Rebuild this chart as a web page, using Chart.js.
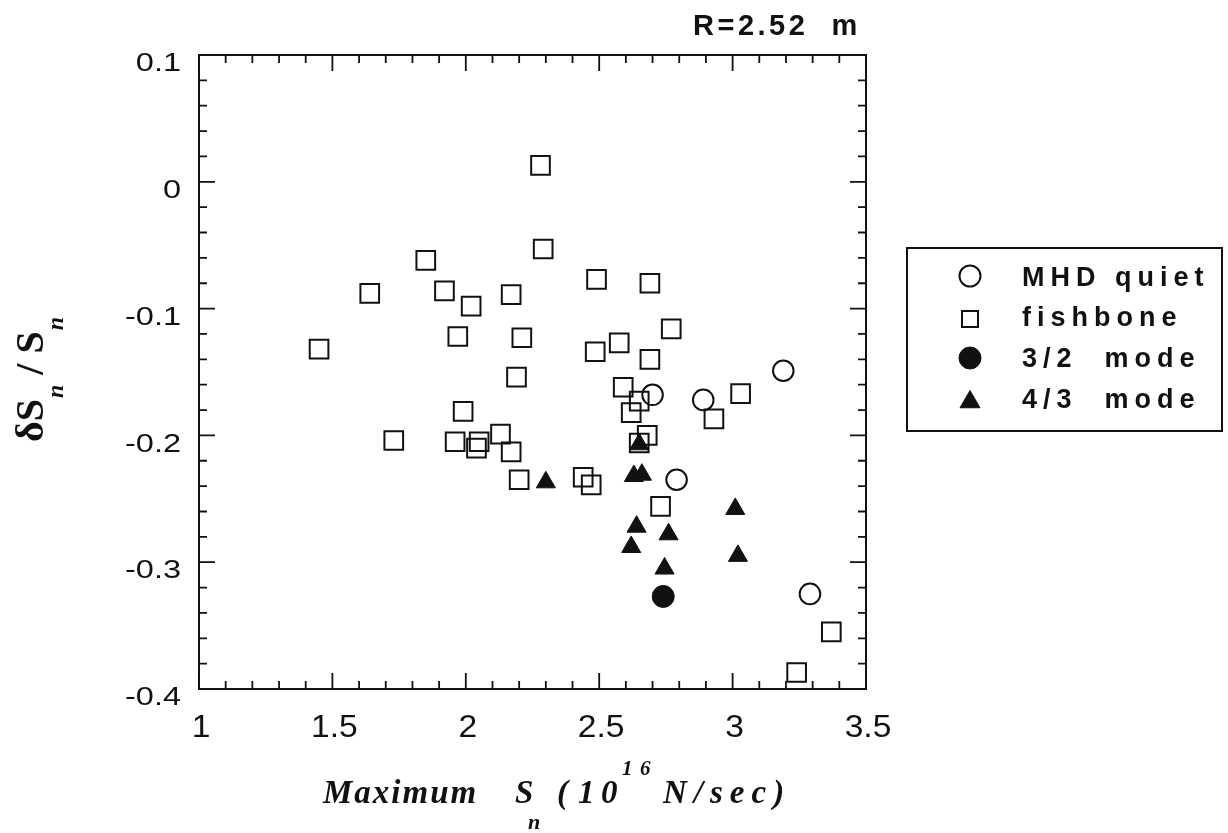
<!DOCTYPE html>
<html>
<head>
<meta charset="utf-8">
<script src="https://cdn.jsdelivr.net/npm/chart.js@4.4.0/dist/chart.umd.min.js"></script>
<style>
  html, body { margin: 0; padding: 0; background: #fff; }
  #wrap { width: 1228px; height: 833px; }
  canvas { display: block; }
</style>
</head>
<body>
<div id="wrap"><canvas id="chart" width="1228" height="833"></canvas></div>
<script>
// Maximum neutron source strength (10^16 N/s) and relative drop dS_n/S_n
const mhdQuietX = [2.70, 2.89, 3.19, 2.79, 3.29];
const mhdQuietY = [-0.168, -0.172, -0.149, -0.235, -0.325];

const fishboneX = [1.45, 1.64, 1.73, 1.85, 1.92, 1.97, 1.99, 1.96, 2.02, 2.05, 2.04, 2.13, 2.17,
  2.17, 2.19, 2.21, 2.20, 2.28, 2.29, 2.44, 2.47, 2.49, 2.485, 2.575, 2.59, 2.62, 2.65, 2.68,
  2.65, 2.69, 2.69, 2.77, 2.73, 2.93, 3.03, 3.37, 3.24];
const fishboneY = [-0.132, -0.088, -0.204, -0.062, -0.086, -0.122, -0.181, -0.205, -0.098, -0.205,
  -0.210, -0.199, -0.213, -0.089, -0.154, -0.123, -0.235, 0.013, -0.053, -0.233, -0.239, -0.077,
  -0.134, -0.127, -0.162, -0.182, -0.173, -0.200, -0.206, -0.080, -0.140, -0.116, -0.256, -0.187,
  -0.167, -0.355, -0.387];

const mode32X = [2.74];
const mode32Y = [-0.327];

const mode43X = [2.30, 2.65, 2.63, 2.66, 3.01, 2.64, 2.76, 2.62, 3.02, 2.745];
const mode43Y = [-0.237, -0.207, -0.232, -0.231, -0.258, -0.272, -0.278, -0.288, -0.295, -0.305];

const seriesLabels = ['MHD quiet', 'fishbone', '3/2  mode', '4/3  mode'];

const xTickValues = [1, 1.5, 2, 2.5, 3, 3.5];
const xTickLabels = ['1', '1.5', '2', '2.5', '3', '3.5'];
const yTickValues = [0.1, 0, -0.1, -0.2, -0.3, -0.4];
const yTickLabels = ['0.1', '0', '-0.1', '-0.2', '-0.3', '-0.4'];
const xMinorStep = 0.1;
const yMinorStep = 0.02;
const plotTitle = 'R=2.52  m';

function toPoints(xs, ys) {
  return xs.map((x, i) => ({ x: x, y: ys[i] }));
}

const INK = '#111';
const NONE = 'rgba(0,0,0,0)';

// text widened horizontally around its anchor
function wideText(ctx, text, x, y, sx, align) {
  ctx.save();
  ctx.translate(x, y);
  ctx.scale(sx, 1);
  ctx.textAlign = align;
  ctx.fillText(text, 0, 0);
  ctx.restore();
}

// boxed frame, inward major/minor ticks on all four sides, tick labels, titles
const framePlugin = {
  id: 'frame',
  beforeDatasetsDraw(chart) {
    const { ctx, chartArea: a } = chart;
    const xs = chart.scales.x, ys = chart.scales.y;
    ctx.save();
    ctx.strokeStyle = INK;
    ctx.lineWidth = 2;
    ctx.strokeRect(a.left, a.top, a.right - a.left, a.bottom - a.top);

    ctx.lineWidth = 1.8;
    ctx.beginPath();
    const nx = Math.round((xs.max - xs.min) / xMinorStep);
    for (let i = 0; i <= nx; i++) {
      const px = xs.getPixelForValue(xs.min + i * xMinorStep);
      const len = (i % 5 === 0) ? 16 : 8;
      ctx.moveTo(px, a.bottom); ctx.lineTo(px, a.bottom - len);
      ctx.moveTo(px, a.top); ctx.lineTo(px, a.top + len);
    }
    const ny = Math.round((ys.max - ys.min) / yMinorStep);
    for (let i = 0; i <= ny; i++) {
      const py = ys.getPixelForValue(ys.min + i * yMinorStep);
      const len = (i % 5 === 0) ? 16 : 8;
      ctx.moveTo(a.left, py); ctx.lineTo(a.left + len, py);
      ctx.moveTo(a.right, py); ctx.lineTo(a.right - len, py);
    }
    ctx.stroke();

    ctx.fillStyle = INK;
    ctx.textBaseline = 'middle';
    ctx.font = '26px "Liberation Sans", Arial, sans-serif';
    yTickValues.forEach((v, i) => {
      wideText(ctx, yTickLabels[i], a.left - 18, ys.getPixelForValue(v) + 9, 1.25, 'right');
    });
    ctx.font = '32px "Liberation Sans", Arial, sans-serif';
    xTickValues.forEach((v, i) => {
      wideText(ctx, xTickLabels[i], xs.getPixelForValue(v) + 2, a.bottom + 39, 1.05, 'center');
    });

    // title at the top right
    ctx.textBaseline = 'alphabetic';
    ctx.textAlign = 'left';
    ctx.font = 'bold 29px "Liberation Sans", Arial, sans-serif';
    ctx.letterSpacing = '3.5px';
    ctx.fillText(plotTitle, 693, 35);
    ctx.letterSpacing = '0px';

    // x axis title: Maximum S_n (10^16 N/sec)
    const big = 'italic bold 33px "Liberation Serif", "Times New Roman", serif';
    const small = 'italic bold 22px "Liberation Serif", "Times New Roman", serif';
    const sup = 'italic bold 21px "Liberation Serif", "Times New Roman", serif';
    const base = 803;
    ctx.font = big;
    ctx.letterSpacing = '2px';
    ctx.fillText('Maximum', 323, base);
    ctx.letterSpacing = '0px';
    ctx.fillText('S', 515, base);
    ctx.font = small;
    ctx.fillText('n', 528, base + 26);
    ctx.font = big;
    ctx.fillText('(', 557, base);
    ctx.fillText('1', 578, base);
    ctx.fillText('0', 601, base);
    ctx.font = sup;
    ctx.fillText('1', 622, base - 28);
    ctx.fillText('6', 640, base - 28);
    ctx.font = big;
    ctx.letterSpacing = '7px';
    ctx.fillText('N/sec)', 663, base);
    ctx.letterSpacing = '0px';

    // y axis title: dS_n / S_n, rotated
    ctx.save();
    ctx.translate(43, 442);
    ctx.rotate(-Math.PI / 2);
    const mainY = 'bold 40px "Liberation Serif", "Times New Roman", serif';
    const subY = 'italic bold 24px "Liberation Serif", "Times New Roman", serif';
    ctx.font = mainY;
    ctx.fillText('\u03B4S', 0, 0);
    let cx = ctx.measureText('\u03B4S').width + 1;
    ctx.font = subY;
    ctx.fillText('n', cx, 20);
    cx += ctx.measureText('n').width;
    ctx.font = mainY;
    ctx.fillText(' / S', cx, 0);
    cx += ctx.measureText(' / S').width + 1;
    ctx.font = subY;
    ctx.fillText('n', cx, 20);
    ctx.restore();

    ctx.restore();
  },
  afterDraw(chart) {
    // boxed legend on the right
    const { ctx } = chart;
    ctx.save();
    ctx.strokeStyle = INK;
    ctx.lineWidth = 2;
    ctx.strokeRect(907, 248, 315, 183);
    const rowBase = [286, 326, 367, 408];
    const markCenter = [276, 319, 358, 402];
    const legendMarks = [
      { pointStyle: 'circle', radius: 10.5, borderWidth: 2, fill: NONE },
      { pointStyle: 'rect', radius: 11.3, borderWidth: 2, fill: NONE },
      { pointStyle: 'circle', radius: 11, borderWidth: 1, fill: INK },
      { pointStyle: 'triangle', radius: 11.5, borderWidth: 1, fill: INK }
    ];
    chart.data.datasets.forEach((ds, i) => {
      const m = legendMarks[i];
      ctx.fillStyle = m.fill;
      ctx.strokeStyle = INK;
      ctx.lineWidth = m.borderWidth;
      Chart.helpers.drawPoint(ctx, { pointStyle: m.pointStyle, radius: m.radius, rotation: 0, borderWidth: m.borderWidth }, 970, markCenter[i]);
      ctx.fillStyle = INK;
      ctx.font = 'bold 27px "Liberation Sans", Arial, sans-serif';
      ctx.letterSpacing = '6px';
      ctx.textAlign = 'left';
      ctx.textBaseline = 'alphabetic';
      ctx.fillText(ds.label, 1022, rowBase[i]);
      ctx.letterSpacing = '0px';
    });
    ctx.restore();
  }
};

new Chart(document.getElementById('chart'), {
  type: 'scatter',
  data: {
    datasets: [
      {
        label: seriesLabels[0],
        data: toPoints(mhdQuietX, mhdQuietY),
        pointStyle: 'circle', pointRadius: 10.3, pointBorderWidth: 2,
        borderColor: INK, backgroundColor: NONE
      },
      {
        label: seriesLabels[1],
        data: toPoints(fishboneX, fishboneY),
        pointStyle: 'rect', pointRadius: 13.2, pointBorderWidth: 2,
        borderColor: INK, backgroundColor: NONE
      },
      {
        label: seriesLabels[2],
        data: toPoints(mode32X, mode32Y),
        pointStyle: 'circle', pointRadius: 11, pointBorderWidth: 1,
        borderColor: INK, backgroundColor: INK
      },
      {
        label: seriesLabels[3],
        data: toPoints(mode43X, mode43Y),
        pointStyle: 'triangle', pointRadius: 11, pointBorderWidth: 1,
        borderColor: INK, backgroundColor: INK
      }
    ]
  },
  options: {
    responsive: false,
    animation: false,
    devicePixelRatio: 1,
    layout: { padding: { left: 199, right: 362, top: 55, bottom: 144 } },
    scales: {
      x: { type: 'linear', min: 1, max: 3.5, display: false },
      y: { type: 'linear', min: -0.4, max: 0.1, display: false }
    },
    plugins: {
      legend: { display: false },
      tooltip: { enabled: false }
    }
  },
  plugins: [framePlugin]
});
</script>
</body>
</html>
